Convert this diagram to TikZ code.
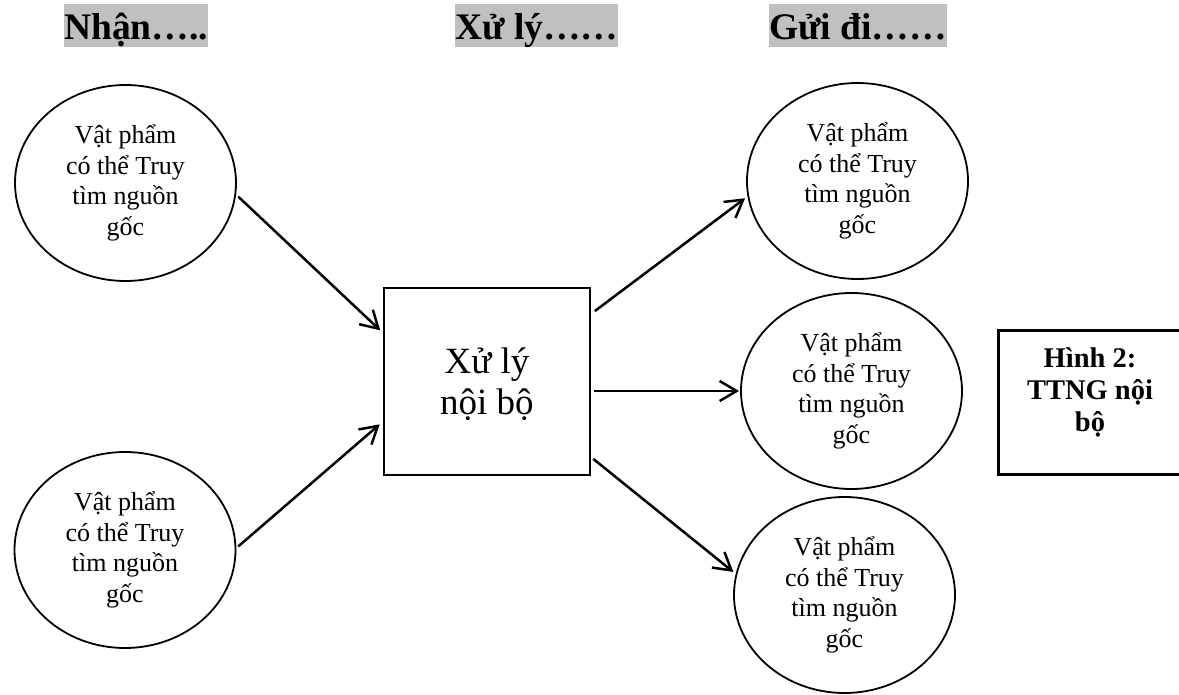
\documentclass[tikz,border=0pt]{standalone}
\usepackage{fontspec}
\setmainfont{Liberation Serif}
\usetikzlibrary{arrows.meta,shapes.geometric}
\definecolor{hdrgray}{HTML}{C0C0C0}
\begin{document}
\begin{tikzpicture}[x=1pt,y=-1pt,
  item/.style={draw, ellipse, line width=1.8pt, minimum width=221pt, minimum height=196pt,
    inner sep=0pt, align=center, font=\fontsize{26}{30.5}\selectfont},
  procbox/.style={draw, rectangle, line width=1.8pt, minimum width=206pt, minimum height=187pt,
    inner sep=0pt},
  proclabel/.style={align=center, inner sep=0pt, font=\fontsize{37}{41}\selectfont},
  figbox/.style={draw, rectangle, line width=3pt, minimum width=184pt, minimum height=143pt, inner sep=0pt},
  figlabel/.style={align=center, inner sep=0pt, font=\bfseries\fontsize{28.5}{32}\selectfont},
  header/.style={fill=hdrgray, anchor=base west, inner sep=0pt, text height=35.5pt, text depth=7.5pt,
    font=\bfseries\fontsize{37.5}{43}\selectfont},
  flow/.style={line width=2.5pt, -{Straight Barb[length=17pt,width=20pt]}}
]
\useasboundingbox (0,0) rectangle (1179,695);
\clip (0,0) rectangle (1179,695);

% column headings
\node[header] (hin)  at (64,39.5)  {Nhận…..};
\node[header] (hmid) at (455,39.5) {Xử lý……};
\node[header] (hout) at (769,39.5) {Gửi đi……};

% incoming items
\node[item] (tl) at (125.5,183) {Vật phẩm\\có thể Truy\\tìm nguồn\\gốc};
\node[item] (bl) at (125,550)   {Vật phẩm\\có thể Truy\\tìm nguồn\\gốc};

% internal processing
\node[procbox] (box) at (487,381.5) {};
\node[proclabel] (boxtxt) at ([yshift=-3pt]box.center) {Xử lý\\nội bộ};

% outgoing items
\node[item] (tr) at (857.5,181) {Vật phẩm\\có thể Truy\\tìm nguồn\\gốc};
\node[item] (mr) at (851.5,391) {Vật phẩm\\có thể Truy\\tìm nguồn\\gốc};
\node[item] (br) at (844.5,595) {Vật phẩm\\có thể Truy\\tìm nguồn\\gốc};

% figure caption box
\node[figbox] (fig) at (1090,402.5) {};
\node[figlabel] (figtxt) at ([yshift=10pt]fig.center) {Hình 2:\\TTNG nội\\bộ};

% flows
\draw[flow, shorten <=3pt, shorten >=4pt] (tl.-6) -- (box.155);
\draw[flow, shorten <=2.5pt, shorten >=4.5pt] (bl.1) -- (box.201);
\draw[flow, shorten <=5pt, shorten >=3pt] (box.33) -- (tr.188);
\draw[flow, shorten <=3pt, shorten >=1pt] (box.east |- mr.west) -- (mr.west);
\draw[flow, shorten <=3pt, shorten >=3pt] (box.-36) -- (br.169);
\end{tikzpicture}
\end{document}
